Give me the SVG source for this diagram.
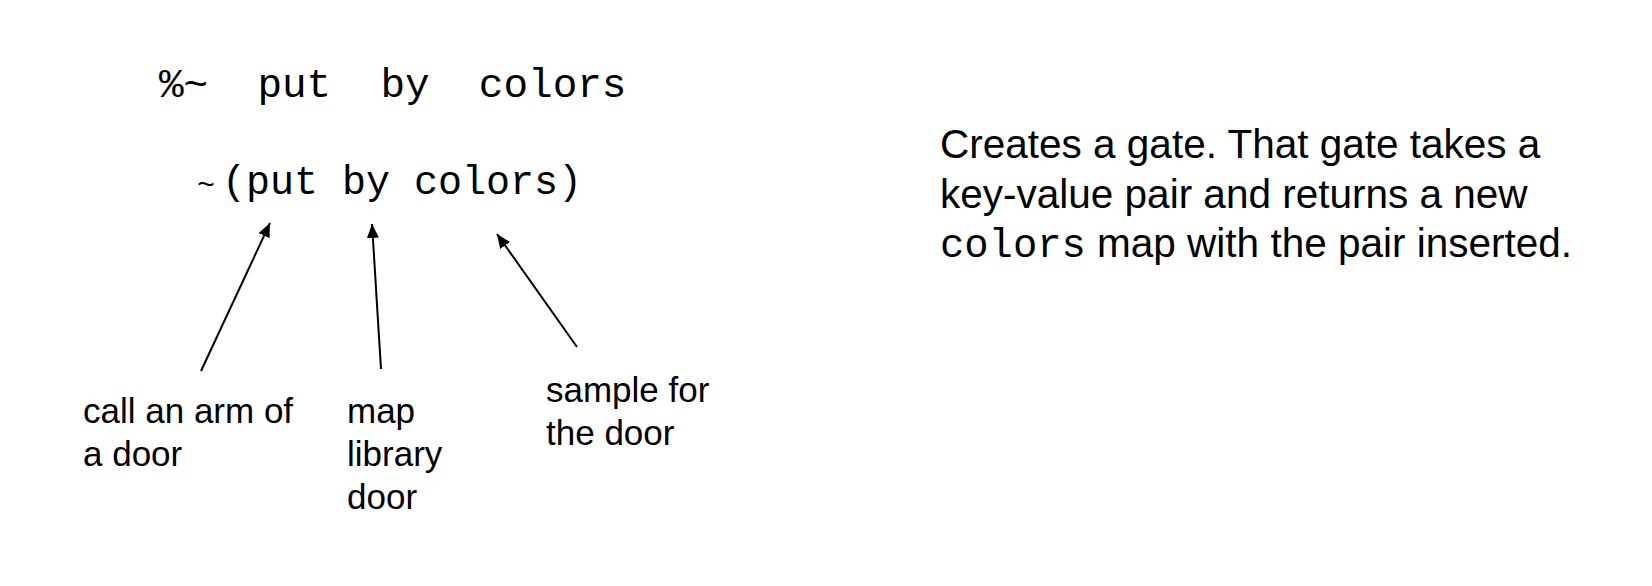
<svg xmlns="http://www.w3.org/2000/svg" width="1652" height="586" viewBox="0 0 1652 586">
<style>
.mono{font-family:"Liberation Mono","Courier New",monospace;fill:#000}
.sans{font-family:"Liberation Sans",Arial,sans-serif;fill:#000}
.lbl{font-size:35px}
.desc{font-size:40.5px}
.conn{stroke:#000;stroke-width:2;fill:none;marker-end:url(#ah)}
</style>
<defs>
<marker id="ah" markerUnits="userSpaceOnUse" markerWidth="16" markerHeight="12" refX="14" refY="6" orient="auto">
<path d="M0,0 L14,6 L0,12 Z" fill="#000"/>
</marker>
</defs>
<rect width="1652" height="586" fill="#fff"/>
<g id="code1"><text class="mono" x="159" y="97" font-size="41" xml:space="preserve">%~  put  by  colors</text></g>
<g id="code2"><text class="mono" y="194" font-size="40"><tspan x="197" font-size="30">~</tspan><tspan x="222">(put by colors)</tspan></text></g>
<g id="label-arm"><text class="sans lbl"><tspan x="83" y="423">call an arm of</tspan><tspan x="83" y="466">a door</tspan></text></g>
<g id="label-map"><text class="sans lbl"><tspan x="347" y="423">map</tspan><tspan x="347" y="466">library</tspan><tspan x="347" y="509">door</tspan></text></g>
<g id="label-sample"><text class="sans lbl"><tspan x="546" y="402">sample for</tspan><tspan x="546" y="445">the door</tspan></text></g>
<g id="description"><text class="sans desc"><tspan x="940" y="158">Creates a gate. That gate takes a</tspan><tspan x="940" y="208">key-value pair and returns a new</tspan><tspan x="940" y="257"><tspan class="mono" font-size="40.5">colors</tspan> map with the pair inserted.</tspan></text></g>
<g id="connectors">
<line class="conn" x1="201" y1="371" x2="270" y2="223"/>
<line class="conn" x1="381" y1="369" x2="372" y2="224"/>
<line class="conn" x1="577" y1="347" x2="497" y2="234"/>
</g>
</svg>
